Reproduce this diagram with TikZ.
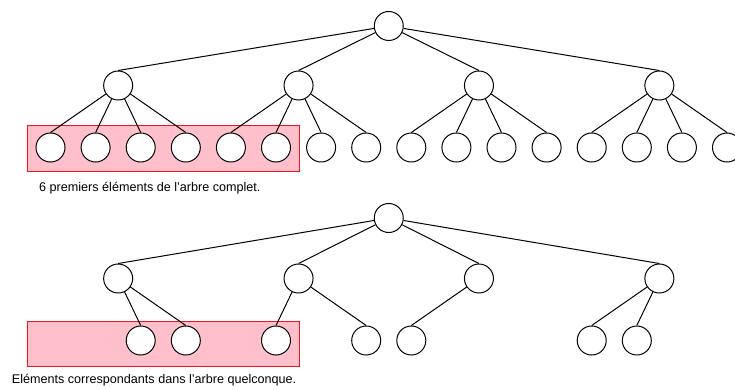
\documentclass[tikz,border=0pt]{standalone}
\usepackage{fontspec}
\setmainfont{Liberation Sans}
\definecolor{selfill}{RGB}{255,192,203}
\definecolor{selline}{RGB}{240,20,30}
\begin{document}
\begin{tikzpicture}[x=1pt,y=-1pt,
  treenode/.style={circle,draw=black,fill=white,line width=1pt,minimum size=29pt,inner sep=0pt},
  edge/.style={line width=1pt,draw=black},
  selbox/.style={draw=selline,fill=selfill,line width=1pt,inner sep=0pt,anchor=north west},
  caption/.style={anchor=base west,inner sep=0pt,font=\fontsize{12.6}{15}\selectfont}]
\useasboundingbox (0,0) rectangle (735,390);

% highlighted regions (behind the trees)
\node[selbox,minimum width=272pt,minimum height=45.5pt] (topsel) at (27,125) {};
\node[selbox,minimum width=272pt,minimum height=45pt] (botsel) at (27,320.7) {};

% ---------- complete tree ----------
\node[treenode] (t0) at (388.75,26) {};
\foreach \i in {0,...,3}
  \node[treenode] (t1\i) at ({50.5+45.1*(4*\i+1.5)},85.5) {};
\foreach \k in {0,...,15}
  \node[treenode] (tl\k) at ({50.5+45.1*\k},147.5) {};
\foreach \i in {0,...,3}
  \draw[edge] (t0) -- (t1\i.north);
\foreach \i in {0,...,3}
  \foreach \j in {0,...,3}
    \draw[edge] (t1\i) -- (tl\the\numexpr4*\i+\j\relax.north);

\node[caption] (topcap) at (39,191) {6 premiers éléments de l'arbre complet.};

% ---------- arbitrary tree ----------
\node[treenode] (b0) at (388.75,218) {};
\foreach \i in {0,...,3}
  \node[treenode] (b1\i) at ({50.5+45.1*(4*\i+1.5)},278.5) {};
\foreach \k in {2,3,5,7,8,12,13}
  \node[treenode] (bl\k) at ({50.5+45.1*\k},340.5) {};
\foreach \i in {0,...,3}
  \draw[edge] (b0) -- (b1\i.north);
\foreach \p/\c in {0/2,0/3,1/5,1/7,2/8,3/12,3/13}
  \draw[edge] (b1\p) -- (bl\c.north);

\node[caption] (botcap) at (11.7,383) {Eléments correspondants dans l'arbre quelconque.};
\end{tikzpicture}
\end{document}
